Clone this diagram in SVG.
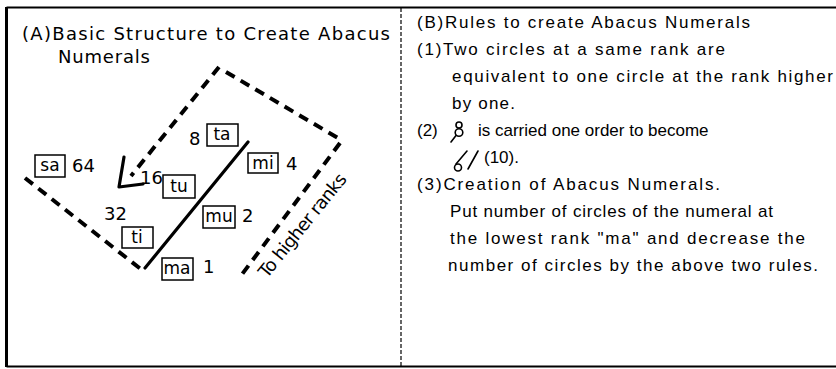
<svg xmlns="http://www.w3.org/2000/svg" width="836" height="369" viewBox="0 0 836 369">
<style>
text{fill:#000}
.t{font-family:"DejaVu Sans","Liberation Sans",sans-serif;font-size:18px}
.r{font-family:"Liberation Sans","DejaVu Sans",sans-serif;font-size:17px}
.n{font-family:"DejaVu Sans","Liberation Sans",sans-serif;font-size:18px}
.b{font-family:"DejaVu Sans","Liberation Sans",sans-serif;font-size:17px;text-anchor:middle}
.box{fill:#fff;stroke:#000;stroke-width:1.5}
.dash{fill:none;stroke:#000;stroke-width:4;stroke-dasharray:10 7}
.solid{fill:none;stroke:#000;stroke-width:3.2;stroke-linecap:round;stroke-linejoin:round}
.sym{fill:none;stroke:#000;stroke-width:1.6;stroke-linecap:round}
</style>
<rect width="836" height="369" fill="#fff"/>
<g id="frame">
<path d="M6.5,7.5 H840 M6.5,366.5 H840" stroke="#000" stroke-width="2.2" fill="none"/>
<path d="M6.5,7 V367" stroke="#000" stroke-width="3" fill="none"/>
<path d="M401,8 V366" stroke="#000" stroke-width="1.2" stroke-dasharray="4 2" fill="none"/>
</g>
<g id="panelA">
<text class="t" x="22" y="40" textLength="368">(A)Basic Structure to Create Abacus</text>
<text class="t" x="58" y="63" textLength="92">Numerals</text>
</g>
<g id="connectors">
<path class="dash" d="M226,72 L338,138"/>
<path class="dash" d="M340,143 L240,277"/>
<path class="dash" d="M219,67 L131,176"/>
<path class="dash" d="M25,178 L142,270"/>
<path class="solid" d="M145,268 L248,142"/>
<path class="solid" d="M124,157 L119,187 L143,184"/>
</g>
<g id="node-sa"><rect class="box" x="35" y="155" width="30" height="22"/><text class="b" x="50" y="171">sa</text><text class="n" x="72" y="172">64</text></g>
<g id="node-ta"><text class="n" x="189" y="145">8</text><rect class="box" x="207" y="124" width="31" height="22"/><text class="b" x="222" y="140">ta</text></g>
<g id="node-mi"><rect class="box" x="248" y="153" width="30" height="20"/><text class="b" x="263" y="169">mi</text><text class="n" x="286" y="170">4</text></g>
<g id="node-tu"><text class="n" x="140" y="184">16</text><rect class="box" x="163" y="175" width="32" height="23"/><text class="b" x="179" y="192">tu</text></g>
<g id="node-ti"><text class="n" x="104" y="220">32</text><rect class="box" x="122" y="227" width="31" height="21"/><text class="b" x="137" y="243">ti</text></g>
<g id="node-mu"><rect class="box" x="203" y="206" width="32" height="22"/><text class="b" x="219" y="222">mu</text><text class="n" x="242" y="222">2</text></g>
<g id="node-ma"><rect class="box" x="162" y="258" width="31" height="22"/><text class="b" x="177" y="274">ma</text><text class="n" x="203" y="273">1</text></g>
<g id="label-higher"><text class="n" font-size="16" transform="translate(267,279) rotate(-51)" textLength="128">To higher ranks</text></g>
<g id="panelB">
<text class="r" x="417" y="28" textLength="333">(B)Rules to create Abacus Numerals</text>
<text class="r" x="417" y="55" textLength="308">(1)Two circles at a same rank are</text>
<text class="r" x="452" y="82" textLength="381">equivalent to one circle at the rank higher</text>
<text class="r" x="452" y="109" textLength="63">by one.</text>
<text class="r" x="417" y="136">(2)</text>
<circle class="sym" cx="459" cy="125" r="3"/>
<circle class="sym" cx="459" cy="132.5" r="3.8"/>
<path class="sym" d="M456,135.5 L451,142"/>
<text class="r" x="478">
<tspan y="136">is carried one order to become</tspan></text>
<path class="sym" d="M467,151 L456,164"/>
<circle class="sym" cx="458" cy="167.5" r="3.5"/>
<path class="sym" d="M478,151 L468,169"/>
<text class="r" x="484" y="163">(10).</text>
<text class="r" x="417" y="190" textLength="303">(3)Creation of Abacus Numerals.</text>
<text class="r" x="450" y="217" textLength="323">Put number of circles of the numeral at</text>
<text class="r" x="450" y="244" textLength="355">the lowest rank  "ma"  and decrease the</text>
<text class="r" x="448" y="271" textLength="370">number of circles by the above two rules.</text>
</g>
</svg>
